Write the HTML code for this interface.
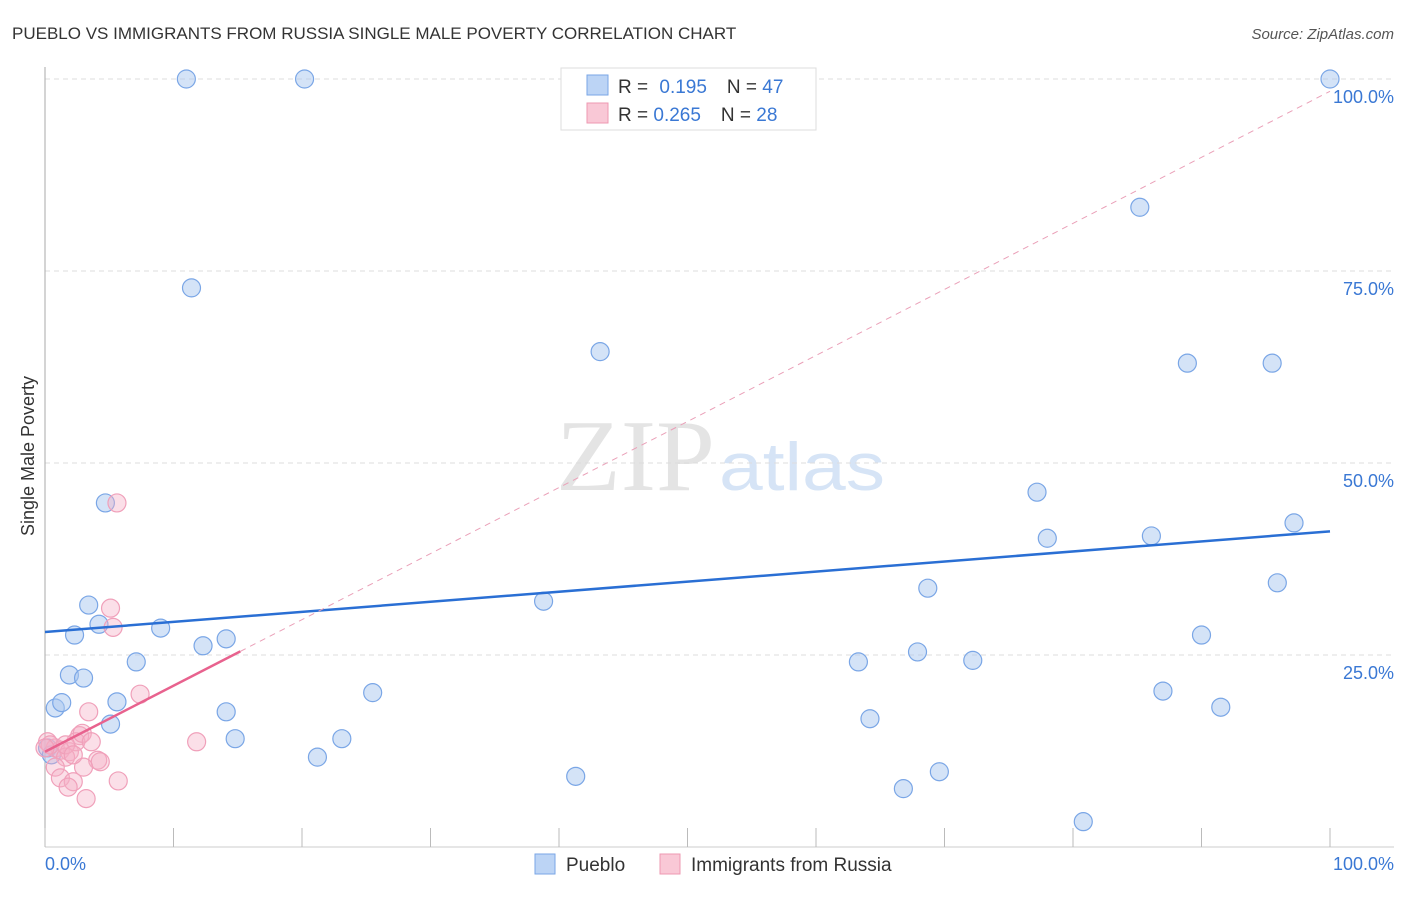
<!DOCTYPE html>
<html><head><meta charset="utf-8"><style>
body{margin:0;background:#fff;font-family:"Liberation Sans",sans-serif;}
svg text{font-family:"Liberation Sans",sans-serif;}
</style></head><body>
<svg id="chart" width="1406" height="892" xmlns="http://www.w3.org/2000/svg">
<text x="12" y="39" font-size="17" fill="#333">PUEBLO VS IMMIGRANTS FROM RUSSIA SINGLE MALE POVERTY CORRELATION CHART</text>
<text x="1394" y="39" font-size="15" fill="#555" font-style="italic" text-anchor="end">Source: ZipAtlas.com</text>
<text x="556" y="490" font-size="102" fill="#e4e4e4" textLength="159" lengthAdjust="spacingAndGlyphs" style="font-family:'Liberation Serif',serif">ZIP</text>
<text x="719" y="490" font-size="68" fill="#d6e4f6" textLength="166" lengthAdjust="spacingAndGlyphs">atlas</text>
<g id="grid"></g><g id="axes"></g><g id="marks"></g>
<text transform="translate(34,456) rotate(-90)" font-size="18" fill="#333" text-anchor="middle">Single Male Poverty</text>
<text x="45" y="870" font-size="18" fill="#3a78d4">0.0%</text>
<text x="1394" y="870" font-size="18" fill="#3a78d4" text-anchor="end">100.0%</text>
<g>
<rect x="561" y="68" width="255" height="62" fill="#fff" stroke="#ddd"/>
<rect x="587" y="75" width="21" height="20" fill="#bcd4f5" stroke="#7aa6e6"/>
<rect x="587" y="103" width="21" height="20" fill="#f9c8d6" stroke="#ee98b2"/>
<text x="618" y="93" font-size="19" fill="#333">R = <tspan fill="#3a78d4" dx="6">0.195</tspan><tspan dx="20" fill="#333">N = </tspan><tspan fill="#3a78d4">47</tspan></text>
<text x="618" y="121" font-size="19" fill="#333">R = <tspan fill="#3a78d4">0.265</tspan><tspan dx="20" fill="#333">N = </tspan><tspan fill="#3a78d4">28</tspan></text>
</g>
<g>
<rect x="535" y="854" width="20" height="20" fill="#bcd4f5" stroke="#7aa6e6"/>
<text x="566" y="871" font-size="19" fill="#333">Pueblo</text>
<rect x="660" y="854" width="20" height="20" fill="#f9c8d6" stroke="#ee98b2"/>
<text x="691" y="871" font-size="19" fill="#333">Immigrants from Russia</text>
</g>
</svg>
<script>
const yTicks=[25,50,75,100];
const yTickLabels=["25.0%","50.0%","75.0%","100.0%"];
const xTickVals=[0,10,20,30,40,50,60,70,80,90,100];
const blueX=[11.0,20.2,100,85.2,11.4,43.2,88.9,95.5,4.7,77.2,78.0,86.1,97.2,95.9,68.7,38.8,3.4,4.2,2.3,9.0,12.3,14.1,90.0,7.1,63.3,67.9,72.2,1.9,3.0,0.8,1.3,5.6,25.5,87.0,91.5,5.1,14.1,64.2,14.8,23.1,21.2,41.3,69.6,66.8,80.8,0.2,0.5];
const blueY=[100,100,100,83.3,72.8,64.5,63.0,63.0,44.8,46.2,40.2,40.5,42.2,34.4,33.7,32.0,31.5,29.0,27.6,28.5,26.2,27.1,27.6,24.1,24.1,25.4,24.3,22.4,22.0,18.1,18.8,18.9,20.1,20.3,18.2,16.0,17.6,16.7,14.1,14.1,11.7,9.2,9.8,7.6,3.3,12.9,12.0];
const pinkX=[5.6,5.1,5.3,7.4,3.4,2.7,11.8,0.2,0.8,1.2,1.9,1.6,2.4,2.9,4.1,4.3,3.0,0.8,1.2,2.2,1.8,5.7,3.2,0.4,0,1.6,2.2,3.6];
const pinkY=[44.8,31.1,28.6,19.9,17.6,14.5,13.7,13.7,12.9,12.6,12.4,11.7,13.7,14.8,11.3,11.1,10.4,10.4,9.0,8.5,7.8,8.6,6.3,13.3,12.9,13.3,12.0,13.7];
const blueTrend=[28.0,41.1];
const pinkTrend=[12.4,0.86];
const X=v=>45+v*12.85, Y=v=>847-v*7.68;
const NS="http://www.w3.org/2000/svg";
function mk(p,t,a){const e=document.createElementNS(NS,t);for(const k in a)e.setAttribute(k,a[k]);document.getElementById(p).appendChild(e);return e;}
yTicks.forEach((t,i)=>{
 const g=mk("grid","line",{x1:45,x2:1394,y1:Y(t),y2:Y(t),stroke:"#ddd","stroke-dasharray":"5,4"});
 
 
 const l=mk("grid","text",{x:1394,y:Y(t)+24,"font-size":18,fill:"#3a78d4","text-anchor":"end"});l.textContent=yTickLabels[i];
 
 
});
let a=mk("axes","line",{x1:45,x2:45,y1:67,y2:847,stroke:"#aaa"});


a=mk("axes","line",{x1:45,x2:1394,y1:847,y2:847,stroke:"#ccc"});


xTickVals.forEach(v=>{const t=mk("axes","line",{x1:X(v),x2:X(v),y1:828,y2:847,stroke:"#bbb"});
 
 });
blueX.forEach((x,i)=>{const c=mk("marks","circle",{cx:X(x),cy:Y(blueY[i]),r:9,fill:"rgba(170,200,240,0.5)",stroke:"#7aa6e6","stroke-width":1.2});
 
 });
pinkX.forEach((x,i)=>{const c=mk("marks","circle",{cx:X(x),cy:Y(pinkY[i]),r:9,fill:"rgba(245,175,198,0.4)",stroke:"#f0a0ba","stroke-width":1.2});
 
 });
let ln=mk("marks","line",{x1:X(0),y1:Y(blueTrend[0]),x2:X(100),y2:Y(blueTrend[1]),stroke:"#2a6fd4","stroke-width":2.5});


ln=mk("marks","line",{x1:X(15.2),y1:Y(pinkTrend[0]+pinkTrend[1]*15.2),x2:X(100),y2:Y(pinkTrend[0]+pinkTrend[1]*100),stroke:"#eaa0b8","stroke-width":1,"stroke-dasharray":"6,5"});


ln=mk("marks","line",{x1:X(0),y1:Y(pinkTrend[0]),x2:X(15.2),y2:Y(pinkTrend[0]+pinkTrend[1]*15.2),stroke:"#e8628e","stroke-width":2.5});


</script>
</body></html>
